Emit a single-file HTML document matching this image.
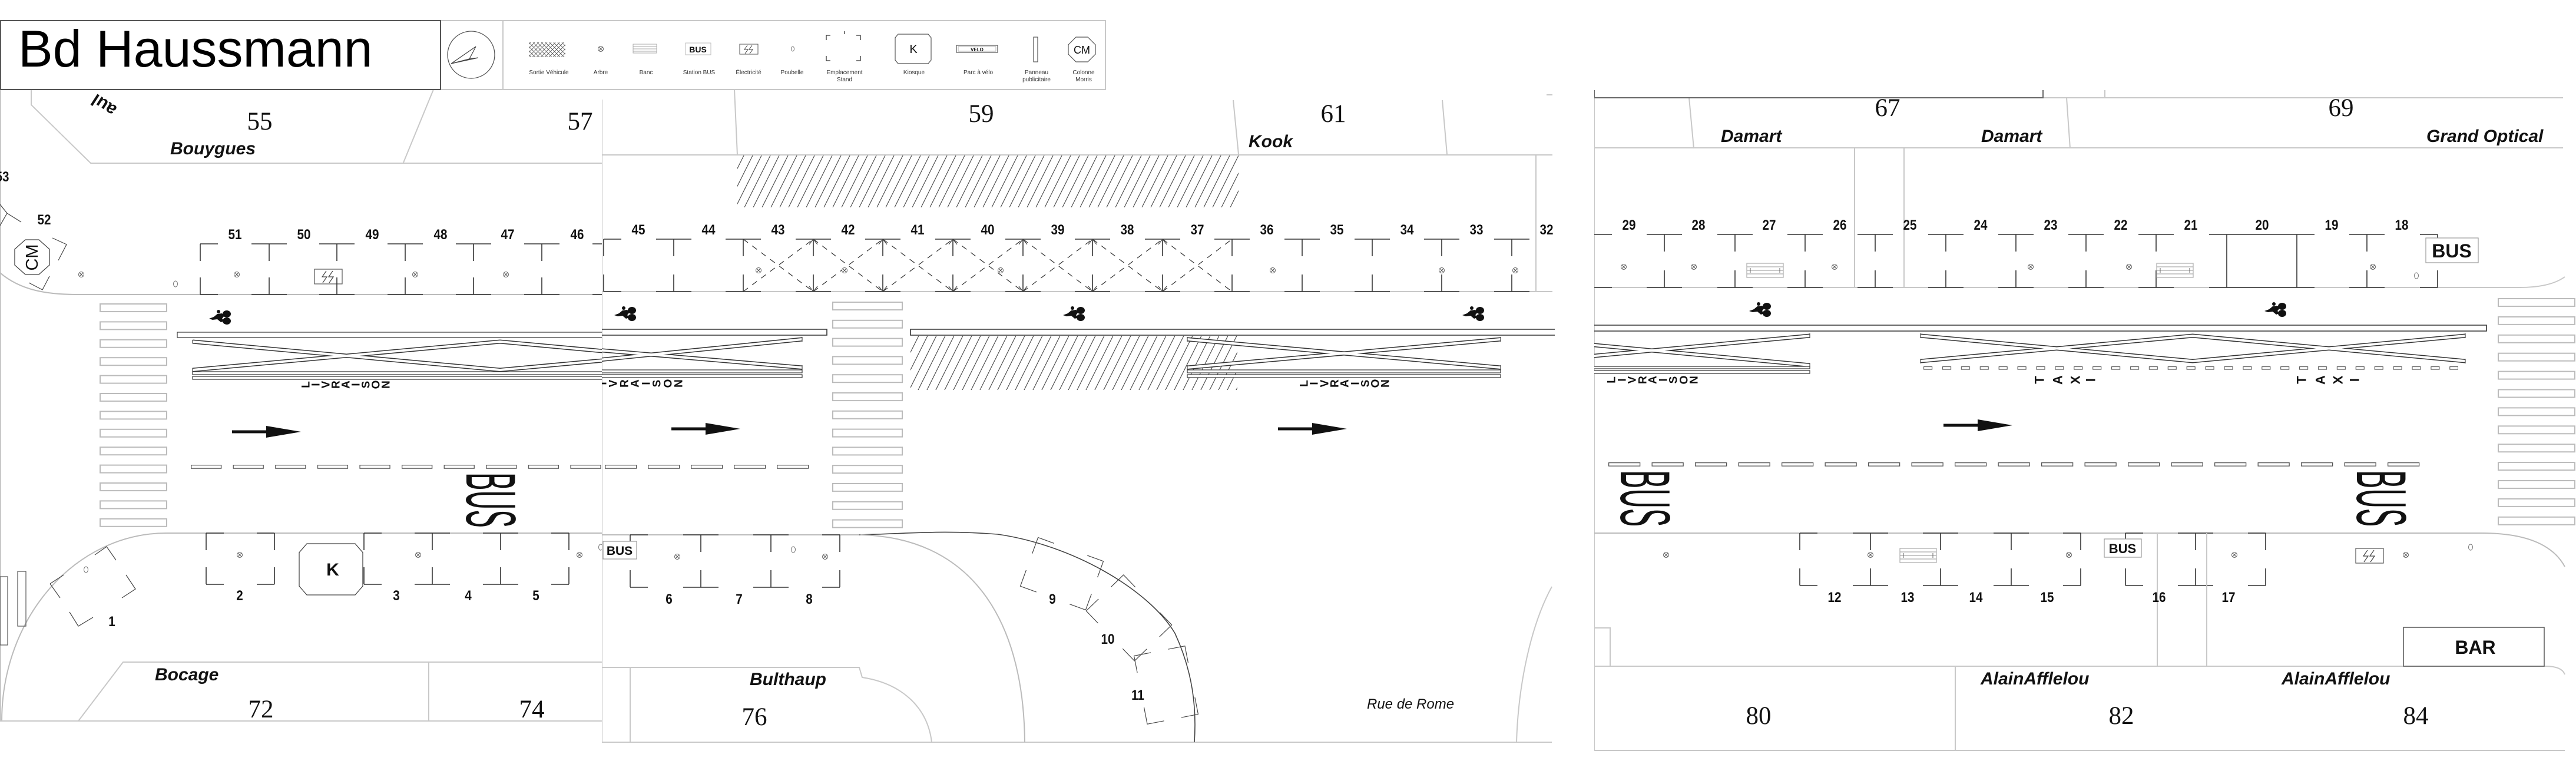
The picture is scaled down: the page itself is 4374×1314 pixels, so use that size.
<!DOCTYPE html>
<html><head><meta charset="utf-8">
<style>
html,body{margin:0;padding:0;background:#fff;}
svg{display:block;}
text{font-family:"Liberation Sans",Arial,sans-serif;}
.serif{font-family:"Liberation Serif",serif;font-size:43px;fill:#111;text-anchor:middle;}
.shop{font-weight:bold;font-style:italic;font-size:30px;fill:#111;}
.num{font-weight:bold;font-size:24px;fill:#111;text-anchor:middle;transform-box:fill-box;transform-origin:center;transform:scaleX(0.86);}
.lg{font-size:10px;fill:#333;text-anchor:middle;}
.rl{font-weight:bold;font-size:19px;fill:#111;text-anchor:middle;dominant-baseline:central;}
.tx{font-weight:bold;font-size:22px;fill:#111;text-anchor:middle;dominant-baseline:central;}
.lt{fill:none;stroke:#c8c8c8;stroke-width:2;}
.st{fill:none;stroke:#333;stroke-width:1.6;}
.thin{fill:none;stroke:#444;stroke-width:1.2;}
.dk{fill:none;stroke:#333;stroke-width:7;}
.wh{fill:none;stroke:#fff;stroke-width:4;}
.bar{fill:#fff;stroke:#333;stroke-width:1.2;}
.big{font-size:120px;fill:#111;}
</style></head><body>
<svg width="4374" height="1314" viewBox="0 0 4374 1314" xmlns="http://www.w3.org/2000/svg">
<defs>
<clipPath id="c1"><rect x="0" y="152" width="1022" height="1162"/></clipPath>
<clipPath id="c2"><rect x="1022" y="152" width="1623" height="1162"/></clipPath>
<clipPath id="c3"><rect x="2707" y="140" width="1667" height="1174"/></clipPath>
<pattern id="hatch" patternUnits="userSpaceOnUse" width="15" height="30"><path d="M-7.5 15L0 0M0 30L15 0M15 30L22.5 15" stroke="#444" stroke-width="1.1"/></pattern>
<pattern id="xh" patternUnits="userSpaceOnUse" width="7" height="7"><path d="M0 0L7 7M7 0L0 7" stroke="#555" stroke-width="0.8"/></pattern>
<pattern id="dash1" patternUnits="userSpaceOnUse" x="324" y="789" width="71.6" height="7"><rect x="0.65" y="0.65" width="51" height="5.5" fill="#fff" stroke="#555" stroke-width="1.3"/></pattern>
<pattern id="dash2" patternUnits="userSpaceOnUse" x="1027" y="789" width="73" height="7"><rect x="0.65" y="0.65" width="53" height="5.5" fill="#fff" stroke="#555" stroke-width="1.3"/></pattern>
<pattern id="dash3" patternUnits="userSpaceOnUse" x="2731" y="785" width="73.5" height="7"><rect x="0.65" y="0.65" width="53" height="5.5" fill="#fff" stroke="#555" stroke-width="1.3"/></pattern>
<pattern id="taxi" patternUnits="userSpaceOnUse" x="3266" y="622" width="31.9" height="6"><rect x="0.6" y="0.6" width="14" height="4.5" fill="#fff" stroke="#555" stroke-width="1.1"/></pattern>
<pattern id="cw1" patternUnits="userSpaceOnUse" x="169" y="515" width="116" height="30.4"><rect x="1" y="1" width="113" height="13" fill="#fff" stroke="#bbb" stroke-width="2"/></pattern>
<pattern id="cw2" patternUnits="userSpaceOnUse" x="1413" y="512" width="122" height="30.8"><rect x="1" y="1" width="118" height="13" fill="#fff" stroke="#bbb" stroke-width="2"/></pattern>
<pattern id="cw3" patternUnits="userSpaceOnUse" x="4241" y="506" width="140" height="30.9"><rect x="1" y="1" width="130" height="13" fill="#fff" stroke="#bbb" stroke-width="2"/></pattern>
<path id="tT" d="M-30 0H30M0 0V29"/>
<path id="bT" d="M-30 0H30M0 0V-29"/>
<path id="tL" d="M0 0H30M0 0V29"/>
<path id="bL" d="M0 0H30M0 0V-29"/>
<path id="tR" d="M0 0H-30M0 0V29"/>
<path id="bR" d="M0 0H-30M0 0V-29"/>
<g id="tree"><circle r="4.5" fill="#fff" stroke="#666" stroke-width="1"/><path d="M-3 -3L3 3M3 -3L-3 3" stroke="#555" stroke-width="1"/></g>
<ellipse id="bin" rx="3.5" ry="5" fill="#fff" stroke="#777" stroke-width="1"/>
<g id="bike" fill="#111"><ellipse cx="30" cy="6" rx="7" ry="6"/><ellipse cx="30" cy="18" rx="7" ry="6"/><path d="M0 14L8 11L14 6L22 5L26 9L22 14L26 18L20 20L14 15L6 16Z"/><circle cx="16" cy="2" r="3"/></g>
<g id="elec"><rect x="0" y="0" width="47" height="25" fill="#fff" stroke="#555" stroke-width="1.2"/><path d="M20 3L13 13H21L14 23M31 3L24 13H32L25 23" fill="none" stroke="#444" stroke-width="1.2"/></g>
<g id="bench"><rect x="0" y="0" width="62" height="24" fill="#fff" stroke="#aaa" stroke-width="1.2"/><path d="M0 6H62M0 12H62M0 18H62" stroke="#aaa" stroke-width="1.2"/><path d="M6 8V16M56 8V16" stroke="#666" stroke-width="1"/></g>
<g id="arrow" fill="#111"><rect x="0" y="-2.5" width="60" height="5"/><path d="M58 -10L117 0L58 10Z"/></g>
<path id="rs" d="M-59 -15V-44H-30M30 -44H59V-15M59 15V44H30M-30 44H-59V15"/>
</defs>

<rect x="0" y="0" width="4374" height="1314" fill="#fff"/>

<!-- ================= PANEL 1 ================= -->
<g clip-path="url(#c1)">
<path class="lt" d="M1 152V1224"/>
<path class="lt" d="M53 152V178L154 277H1022M736 152L685 276"/>
<text class="serif" x="441" y="220">55</text>
<text class="serif" x="985" y="220">57</text>
<text class="shop" x="289" y="262">Bouygues</text>
<text transform="translate(200,182) rotate(213)" font-weight="bold" font-size="30" fill="#111">aul</text>
<text class="num" x="4" y="308">53</text>
<path class="thin" d="M0 347L12 362L36 377M12 362L0 383"/>
<text class="num" x="75" y="381">52</text>
<polygon points="43,407 66,407 84,423 84,450 66,466 43,466 25,450 25,423" fill="#fff" stroke="#444" stroke-width="1.3"/>
<text transform="translate(55,437) rotate(-90)" font-size="29" text-anchor="middle" dominant-baseline="central" fill="#111">CM</text>
<path class="thin" d="M89 404L113 415L99 442M49 480L72 492L84 469"/>
<path class="lt" style="stroke:#bbb" d="M0 463C35 493 80 500 131 500H1022"/>
<use href="#tree" x="138" y="466"/><use href="#bin" x="298" y="482"/>
<use href="#tree" x="402" y="466"/><use href="#tree" x="705" y="466"/><use href="#tree" x="859" y="466"/>
<use href="#elec" x="534" y="457"/>
<g class="st">
<use href="#tL" x="340" y="414"/><use href="#bL" x="340" y="500"/>
<use href="#tT" x="457" y="414"/><use href="#bT" x="457" y="500"/>
<use href="#tT" x="572" y="414"/><use href="#bT" x="572" y="500"/>
<use href="#tT" x="688" y="414"/><use href="#bT" x="688" y="500"/>
<use href="#tT" x="804" y="414"/><use href="#bT" x="804" y="500"/>
<use href="#tT" x="920" y="414"/><use href="#bT" x="920" y="500"/>
<use href="#tT" x="1036" y="414"/><use href="#bT" x="1036" y="500"/>
</g>
<text class="num" x="399" y="406">51</text><text class="num" x="516" y="406">50</text><text class="num" x="632" y="406">49</text>
<text class="num" x="748" y="406">48</text><text class="num" x="862" y="406">47</text><text class="num" x="980" y="406">46</text>
<rect x="169" y="515" width="116" height="380" fill="url(#cw1)"/>
<use href="#bike" x="355" y="527"/>
<rect class="bar" x="301" y="564" width="760" height="9"/>
<polyline class="dk" points="327,580 849,628 1371,580"/><polyline class="dk" points="327,628 849,580 1371,628"/>
<polyline class="wh" points="327,580 849,628 1371,580"/><polyline class="wh" points="327,628 849,580 1371,628"/>
<path class="thin" d="M327 577V583M327 625V631"/>
<rect class="bar" x="327" y="631" width="760" height="5"/><rect class="bar" x="327" y="639" width="760" height="5"/>
<g class="rl">
<text transform="translate(520,653) rotate(-90)">L</text><text transform="translate(537,653) rotate(-90)">I</text><text transform="translate(554,653) rotate(-90)">V</text>
<text transform="translate(571,653) rotate(-90)">R</text><text transform="translate(588,653) rotate(-90)">A</text><text transform="translate(605,653) rotate(-90)">I</text>
<text transform="translate(622,653) rotate(-90)">S</text><text transform="translate(639,653) rotate(-90)">O</text><text transform="translate(656,653) rotate(-90)">N</text>
</g>
<use href="#arrow" x="394" y="733"/>
<rect x="324" y="789" width="697" height="7" fill="url(#dash1)"/>
<text class="big" transform="translate(792,802) rotate(90) scale(0.38,1)">BUS</text>
<path class="lt" style="stroke:#bbb" d="M1022 905H283C128 905 3 1048 3 1224"/>
<g class="st">
<use href="#tL" x="350" y="905"/><use href="#bL" x="350" y="992"/>
<use href="#tR" x="466" y="905"/><use href="#bR" x="466" y="992"/>
<use href="#tL" x="618" y="905"/><use href="#bL" x="618" y="992"/>
<use href="#tT" x="734" y="905"/><use href="#bT" x="734" y="992"/>
<use href="#tT" x="850" y="905"/><use href="#bT" x="850" y="992"/>
<use href="#tR" x="966" y="905"/><use href="#bR" x="966" y="992"/>
</g>
<polygon points="521,923 603,923 616,938 616,995 603,1010 521,1010 508,995 508,938" fill="#fff" stroke="#444" stroke-width="1.3"/>
<text x="565" y="977" font-size="30" font-weight="bold" text-anchor="middle" fill="#111">K</text>
<text class="num" x="407" y="1019">2</text><text class="num" x="673" y="1019">3</text><text class="num" x="795" y="1019">4</text><text class="num" x="910" y="1019">5</text>
<use href="#tree" x="407" y="942"/><use href="#tree" x="710" y="942"/><use href="#tree" x="984" y="942"/>
<use href="#bin" x="1020" y="929"/><use href="#bin" x="146" y="967"/>
<path class="thin" d="M161 942L181 928L197 951M85 991L108 976M85 991L102 1015M214 976L230 1000L207 1015M118 1039L133 1063L158 1048"/>
<text class="num" x="190" y="1063">1</text>
<rect x="0" y="979" width="13" height="116" fill="none" stroke="#555" stroke-width="1.2"/>
<rect x="30" y="970" width="14" height="93" fill="none" stroke="#555" stroke-width="1.2"/>
<path class="lt" d="M1022 1124H209L133 1224M728 1124V1224M0 1224H1022"/>
<text class="shop" x="263" y="1155">Bocage</text>
<text class="serif" x="443" y="1218">72</text>
<text class="serif" x="903" y="1218">74</text>
</g>

<!-- ================= PANEL 2 ================= -->
<g clip-path="url(#c2)">
<rect x="1022" y="152" width="1623" height="1162" fill="#fff"/>
<path class="lt" d="M1022 169V1260H2635M1247 152L1252 263M2094 170L2103 262M2449 170L2457 262M1022 263H2636M2608 262V495M2626 161H2636M1022 495H2636"/>
<text class="serif" x="1666" y="207">59</text>
<text class="serif" x="2264" y="207">61</text>
<text class="shop" x="2120" y="250">Kook</text>
<rect x="1252" y="264" width="851" height="88" fill="url(#hatch)"/>
<g class="st">
<use href="#tL" x="1025" y="406"/><use href="#bL" x="1025" y="495"/>
<use href="#tT" x="1144" y="406"/><use href="#bT" x="1144" y="495"/>
<use href="#tT" x="1262" y="406"/><use href="#bT" x="1262" y="495"/>
<use href="#tT" x="1381" y="406"/><use href="#bT" x="1381" y="495"/>
<use href="#tT" x="1499" y="406"/><use href="#bT" x="1499" y="495"/>
<use href="#tT" x="1618" y="406"/><use href="#bT" x="1618" y="495"/>
<use href="#tT" x="1737" y="406"/><use href="#bT" x="1737" y="495"/>
<use href="#tT" x="1855" y="406"/><use href="#bT" x="1855" y="495"/>
<use href="#tT" x="1974" y="406"/><use href="#bT" x="1974" y="495"/>
<use href="#tT" x="2092" y="406"/><use href="#bT" x="2092" y="495"/>
<use href="#tT" x="2211" y="406"/><use href="#bT" x="2211" y="495"/>
<use href="#tT" x="2330" y="406"/><use href="#bT" x="2330" y="495"/>
<use href="#tT" x="2448" y="406"/><use href="#bT" x="2448" y="495"/>
<use href="#tT" x="2567" y="406"/><use href="#bT" x="2567" y="495"/>
</g>
<path d="M1262 406L1381 495M1262 495L1381 406M1381 406L1499 495M1381 495L1499 406M1499 406L1618 495M1499 495L1618 406M1618 406L1737 495M1618 495L1737 406M1737 406L1855 495M1737 495L1855 406M1855 406L1974 495M1855 495L1974 406M1974 406L2092 495M1974 495L2092 406" fill="none" stroke="#333" stroke-width="1.2" stroke-dasharray="10 9"/>
<path class="thin" d="M1374 415L1381 406L1388 415M1374 486L1381 495L1388 486M1492 415L1499 406L1506 415M1492 486L1499 495L1506 486M1611 415L1618 406L1625 415M1611 486L1618 495L1625 486M1730 415L1737 406L1744 415M1730 486L1737 495L1744 486M1848 415L1855 406L1862 415M1848 486L1855 495L1862 486M1967 415L1974 406L1981 415M1967 486L1974 495L1981 486"/>
<use href="#tree" x="1288" y="459"/><use href="#tree" x="1434" y="459"/><use href="#tree" x="1699" y="459"/>
<use href="#tree" x="2161" y="459"/><use href="#tree" x="2448" y="459"/><use href="#tree" x="2573" y="459"/>
<text class="num" x="1084" y="398">45</text><text class="num" x="1203" y="398">44</text><text class="num" x="1321" y="398">43</text>
<text class="num" x="1440" y="398">42</text><text class="num" x="1558" y="398">41</text><text class="num" x="1677" y="398">40</text>
<text class="num" x="1796" y="398">39</text><text class="num" x="1914" y="398">38</text><text class="num" x="2033" y="398">37</text>
<text class="num" x="2151" y="398">36</text><text class="num" x="2270" y="398">35</text><text class="num" x="2389" y="398">34</text>
<text class="num" x="2507" y="398">33</text><text class="num" x="2626" y="398">32</text>
<use href="#bike" x="1043" y="521"/><use href="#bike" x="1805" y="521"/><use href="#bike" x="2483" y="521"/>
<path class="st" d="M1000 559H1404V569H1000M2640 559H1546V569H2640"/>
<rect x="1413" y="512" width="122" height="390" fill="url(#cw2)"/>
<polyline class="dk" points="327,580 849,628 1362,576"/><polyline class="dk" points="327,628 849,580 1362,624"/>
<polyline class="wh" points="327,580 849,628 1362,576"/><polyline class="wh" points="327,628 849,580 1362,624"/>
<path class="thin" d="M1362 572V580M1362 620V628"/>
<rect class="bar" x="1000" y="628" width="362" height="5"/><rect class="bar" x="1000" y="636" width="362" height="5"/>
<g class="rl">
<text transform="translate(1006,651) rotate(-90)">L</text><text transform="translate(1024,651) rotate(-90)">I</text><text transform="translate(1042,651) rotate(-90)">V</text>
<text transform="translate(1061,651) rotate(-90)">R</text><text transform="translate(1079,651) rotate(-90)">A</text><text transform="translate(1098,651) rotate(-90)">I</text>
<text transform="translate(1116,651) rotate(-90)">S</text><text transform="translate(1135,651) rotate(-90)">O</text><text transform="translate(1153,651) rotate(-90)">N</text>
</g>
<rect x="1546" y="570" width="555" height="92" fill="url(#hatch)"/>
<polyline class="dk" points="2016,576 2548,624"/><polyline class="dk" points="2016,624 2548,576"/>
<polyline class="wh" points="2016,576 2548,624"/><polyline class="wh" points="2016,624 2548,576"/>
<path class="thin" d="M2016 572V580M2016 620V628M2548 572V580M2548 620V628"/>
<rect class="bar" x="2016" y="628" width="532" height="5"/><rect class="bar" x="2016" y="636" width="532" height="5"/>
<g class="rl">
<text transform="translate(2215,651) rotate(-90)">L</text><text transform="translate(2232,651) rotate(-90)">I</text><text transform="translate(2250,651) rotate(-90)">V</text>
<text transform="translate(2267,651) rotate(-90)">R</text><text transform="translate(2284,651) rotate(-90)">A</text><text transform="translate(2302,651) rotate(-90)">I</text>
<text transform="translate(2319,651) rotate(-90)">S</text><text transform="translate(2336,651) rotate(-90)">O</text><text transform="translate(2353,651) rotate(-90)">N</text>
</g>
<use href="#arrow" x="1140" y="728"/><use href="#arrow" x="2170" y="728"/>
<rect x="1027" y="789" width="347" height="7" fill="url(#dash2)"/>
<path class="lt" style="stroke:#bbb" d="M1022 908H1459"/>
<path d="M1459 908C1560 905 1600 900 1694 907C1820 925 1950 1000 1995 1075C2025 1140 2032 1200 2028 1260" fill="none" stroke="#444" stroke-width="1.6"/>
<path class="lt" style="stroke:#bbb" d="M1461 908C1640 912 1738 1040 1740 1260"/>
<g class="st">
<use href="#tL" x="1070" y="908"/><use href="#bL" x="1070" y="997"/>
<use href="#tT" x="1190" y="908"/><use href="#bT" x="1190" y="997"/>
<use href="#tT" x="1309" y="908"/><use href="#bT" x="1309" y="997"/>
<use href="#tR" x="1426" y="908"/><use href="#bR" x="1426" y="997"/>
</g>
<text class="num" x="1136" y="1025">6</text><text class="num" x="1255" y="1025">7</text><text class="num" x="1374" y="1025">8</text>
<rect x="1024" y="919" width="57" height="30" fill="#fff" stroke="#999" stroke-width="1.2"/>
<text x="1052" y="942" font-size="21" font-weight="bold" text-anchor="middle" fill="#111">BUS</text>
<use href="#tree" x="1150" y="945"/><use href="#bin" x="1347" y="933"/><use href="#tree" x="1401" y="945"/>
<g class="thin">
<use href="#rs" transform="translate(1803,974) rotate(20)"/>
<use href="#rs" transform="translate(1917,1049) rotate(46)"/>
<use href="#rs" transform="translate(1980,1163) rotate(79)"/>
</g>
<text class="num" x="1787" y="1025">9</text><text class="num" x="1881" y="1093">10</text><text class="num" x="1932" y="1188">11</text>
<path class="lt" d="M1022 1133H1459L1464 1150C1530 1160 1575 1200 1582 1260M1070 1133V1260M2635 996C2600 1060 2578 1160 2575 1260"/>
<text class="shop" x="1273" y="1163">Bulthaup</text>
<text class="serif" x="1281" y="1231">76</text>
<text x="2321" y="1203" font-size="24" font-style="italic" fill="#111">Rue de Rome</text>
</g>

<!-- ================= PANEL 3 ================= -->
<g clip-path="url(#c3)">
<rect x="2707" y="140" width="1667" height="1174" fill="#fff"/>
<path class="lt" d="M2707 153V1274M2707 166H4352M3574 153V166M2707 251H4352M2868 166L2876 252M3509 166L3515 252M3149 252V488M3233 252V488M2707 488H4279Q4330 488 4355 470"/>
<path d="M2707 153V166H3469V153" fill="none" stroke="#666" stroke-width="2"/>
<text class="serif" x="3205" y="197">67</text>
<text class="serif" x="3975" y="197">69</text>
<text class="shop" x="2922" y="241">Damart</text>
<text class="shop" x="3364" y="241">Damart</text>
<text class="shop" x="4120" y="241">Grand Optical</text>
<g class="st">
<path d="M2707 398H2737M2707 488H2737"/>
<use href="#tT" x="2826" y="398"/><use href="#bT" x="2826" y="488"/>
<use href="#tT" x="2946" y="398"/><use href="#bT" x="2946" y="488"/>
<use href="#tT" x="3065" y="398"/><use href="#bT" x="3065" y="488"/>
<use href="#tT" x="3184" y="398"/><use href="#bT" x="3184" y="488"/>
<use href="#tT" x="3304" y="398"/><use href="#bT" x="3304" y="488"/>
<use href="#tT" x="3423" y="398"/><use href="#bT" x="3423" y="488"/>
<use href="#tT" x="3542" y="398"/><use href="#bT" x="3542" y="488"/>
<use href="#tT" x="3661" y="398"/><use href="#bT" x="3661" y="488"/>
<path d="M3751 398H3930M3781 398V488M3900 398V488M3751 488H3930"/>
<use href="#tT" x="4019" y="398"/><use href="#bT" x="4019" y="488"/>
<use href="#tR" x="4139" y="398"/><use href="#bR" x="4139" y="488"/>
</g>
<text class="num" x="2766" y="390">29</text><text class="num" x="2884" y="390">28</text><text class="num" x="3004" y="390">27</text>
<text class="num" x="3124" y="390">26</text><text class="num" x="3243" y="390">25</text><text class="num" x="3363" y="390">24</text>
<text class="num" x="3482" y="390">23</text><text class="num" x="3601" y="390">22</text><text class="num" x="3720" y="390">21</text>
<text class="num" x="3841" y="390">20</text><text class="num" x="3959" y="390">19</text><text class="num" x="4078" y="390">18</text>
<use href="#tree" x="2757" y="453"/><use href="#tree" x="2876" y="453"/><use href="#tree" x="3115" y="453"/>
<use href="#tree" x="3448" y="453"/><use href="#tree" x="3615" y="453"/><use href="#tree" x="4029" y="453"/>
<use href="#bin" x="4103" y="468"/>
<use href="#bench" x="2966" y="447"/><use href="#bench" x="3662" y="447"/>
<rect x="4119" y="404" width="89" height="42" fill="#fff" stroke="#999" stroke-width="1.2"/>
<text x="4163" y="437" font-size="32" font-weight="bold" text-anchor="middle" fill="#111">BUS</text>
<use href="#bike" x="2970" y="514"/><use href="#bike" x="3845" y="514"/>
<path class="st" d="M2700 552H4222V562H2700"/>
<polyline class="dk" points="2537,570 3073,620"/><polyline class="dk" points="2537,620 3073,570"/>
<polyline class="wh" points="2537,570 3073,620"/><polyline class="wh" points="2537,620 3073,570"/>
<path class="thin" d="M3073 566V574M3073 616V624"/>
<rect class="bar" x="2700" y="622" width="373" height="4"/><rect class="bar" x="2700" y="629" width="373" height="5"/>
<g class="rl">
<text transform="translate(2737,645) rotate(-90)">L</text><text transform="translate(2755,645) rotate(-90)">I</text><text transform="translate(2772,645) rotate(-90)">V</text>
<text transform="translate(2790,645) rotate(-90)">R</text><text transform="translate(2807,645) rotate(-90)">A</text><text transform="translate(2825,645) rotate(-90)">I</text>
<text transform="translate(2842,645) rotate(-90)">S</text><text transform="translate(2860,645) rotate(-90)">O</text><text transform="translate(2877,645) rotate(-90)">N</text>
</g>
<polyline class="dk" points="3261,570 3723,613 4186,570"/><polyline class="dk" points="3261,613 3723,570 4186,613"/>
<polyline class="wh" points="3261,570 3723,613 4186,570"/><polyline class="wh" points="3261,613 3723,570 4186,613"/>
<path class="thin" d="M3261 566V574M3261 609V617M4186 566V574M4186 609V617"/>
<rect x="3266" y="622" width="908" height="6" fill="url(#taxi)"/>
<g class="tx">
<text transform="translate(3463,645) rotate(-90)">T</text><text transform="translate(3494,645) rotate(-90)">A</text>
<text transform="translate(3524,645) rotate(-90)">X</text><text transform="translate(3550,645) rotate(-90)">I</text>
<text transform="translate(3908,645) rotate(-90)">T</text><text transform="translate(3940,645) rotate(-90)">A</text>
<text transform="translate(3970,645) rotate(-90)">X</text><text transform="translate(3998,645) rotate(-90)">I</text>
</g>
<use href="#arrow" x="3300" y="722"/>
<rect x="2731" y="785" width="1378" height="7" fill="url(#dash3)"/>
<text class="big" transform="translate(2752,798) rotate(90) scale(0.39,1)">BUS</text>
<text class="big" transform="translate(4002,798) rotate(90) scale(0.39,1)">BUS</text>
<rect x="4241" y="506" width="140" height="392" fill="url(#cw3)"/>
<path class="lt" style="stroke:#bbb" d="M2707 905H4214C4290 905 4335 925 4355 962"/>
<g class="st">
<use href="#tL" x="3056" y="905"/><use href="#bL" x="3056" y="994"/>
<use href="#tT" x="3176" y="905"/><use href="#bT" x="3176" y="994"/>
<use href="#tT" x="3295" y="905"/><use href="#bT" x="3295" y="994"/>
<use href="#tT" x="3415" y="905"/><use href="#bT" x="3415" y="994"/>
<use href="#tR" x="3533" y="905"/><use href="#bR" x="3533" y="994"/>
<use href="#tL" x="3609" y="905"/><use href="#bL" x="3609" y="994"/>
<use href="#tT" x="3728" y="905"/><use href="#bT" x="3728" y="994"/>
<use href="#tR" x="3847" y="905"/><use href="#bR" x="3847" y="994"/>
</g>
<path class="lt" d="M3663 905V1131M3747 905V1131"/>
<text class="num" x="3115" y="1022">12</text><text class="num" x="3239" y="1022">13</text><text class="num" x="3355" y="1022">14</text>
<text class="num" x="3476" y="1022">15</text><text class="num" x="3666" y="1022">16</text><text class="num" x="3784" y="1022">17</text>
<rect x="3573" y="915" width="63" height="31" fill="#fff" stroke="#999" stroke-width="1.2"/>
<text x="3604" y="939" font-size="22" font-weight="bold" text-anchor="middle" fill="#111">BUS</text>
<use href="#bench" x="3226" y="931"/>
<use href="#tree" x="2829" y="942"/><use href="#tree" x="3176" y="942"/><use href="#tree" x="3513" y="942"/>
<use href="#tree" x="3794" y="942"/><use href="#tree" x="4085" y="942"/>
<use href="#elec" x="4000" y="931"/><use href="#bin" x="4195" y="929"/>
<path class="lt" d="M2707 1131H4322Q4350 1131 4355 1145M2707 1066H2734V1131M2707 1274H4355M3320 1131V1274"/>
<rect x="4081" y="1065" width="239" height="66" fill="#fff" stroke="#555" stroke-width="1.5"/>
<text x="4203" y="1110" font-size="32" font-weight="bold" text-anchor="middle" fill="#111">BAR</text>
<text class="serif" x="2986" y="1229">80</text>
<text class="serif" x="3602" y="1229">82</text>
<text class="serif" x="4102" y="1229">84</text>
<text class="shop" x="3363" y="1162">AlainAfflelou</text>
<text class="shop" x="3874" y="1162">AlainAfflelou</text>
</g>

<!-- ================= HEADER / LEGEND ================= -->
<rect x="748" y="35" width="1129" height="117" fill="#fff" stroke="#c8c8c8" stroke-width="2"/>
<path class="lt" d="M854 35V152"/>
<rect x="1" y="35" width="747" height="117" fill="#fff" stroke="#555" stroke-width="2"/>
<text x="31" y="113" font-size="88" fill="#000">Bd Haussmann</text>
<circle cx="800" cy="93" r="40" fill="#fff" stroke="#555" stroke-width="1.3"/>
<path d="M766 108L808 79L797 100ZM766 108L812 98L797 100" fill="none" stroke="#444" stroke-width="1.2"/>

<rect x="898" y="72" width="62" height="25" fill="url(#xh)"/>
<use href="#tree" x="1020" y="83"/>
<g><rect x="1075" y="75" width="40" height="15" fill="#fff" stroke="#aaa" stroke-width="1"/><path d="M1075 79H1115M1075 83H1115M1075 87H1115" stroke="#aaa" stroke-width="1"/></g>
<rect x="1164" y="73" width="43" height="20" fill="#fff" stroke="#bbb" stroke-width="1"/>
<text x="1185" y="89" font-size="14" font-weight="bold" text-anchor="middle" fill="#111">BUS</text>
<rect x="1256" y="75" width="31" height="17" fill="#fff" stroke="#555" stroke-width="1"/>
<path d="M1269 77L1264 84H1270L1265 91M1277 77L1272 84H1278L1273 91" fill="none" stroke="#444" stroke-width="1"/>
<ellipse cx="1346" cy="83" rx="2.5" ry="4" fill="#fff" stroke="#777" stroke-width="1"/>
<path class="st" style="stroke-width:1.3" d="M1403 68V60H1410M1454 60H1461V68M1403 95V103H1410M1454 103H1461V95M1434 53V58"/>
<polygon points="1525,58 1576,58 1581,64 1581,102 1576,108 1525,108 1520,102 1520,64" fill="#fff" stroke="#555" stroke-width="1.2"/>
<text x="1551" y="90" font-size="20" text-anchor="middle" fill="#111">K</text>
<rect x="1624" y="77" width="70" height="12" fill="#fff" stroke="#555" stroke-width="1.2"/>
<rect x="1627" y="79" width="64" height="8" fill="none" stroke="#999" stroke-width="0.8"/>
<text x="1659" y="87" font-size="8" font-weight="bold" text-anchor="middle" fill="#111">VELO</text>
<rect x="1755" y="63" width="7" height="42" fill="#fff" stroke="#555" stroke-width="1.2"/>
<polygon points="1827,63 1847,63 1860,76 1860,92 1847,105 1827,105 1814,92 1814,76" fill="#fff" stroke="#555" stroke-width="1.2"/>
<text x="1837" y="91" font-size="18" text-anchor="middle" fill="#111">CM</text>

<text class="lg" x="932" y="126">Sortie Véhicule</text>
<text class="lg" x="1020" y="126">Arbre</text>
<text class="lg" x="1097" y="126">Banc</text>
<text class="lg" x="1187" y="126">Station BUS</text>
<text class="lg" x="1271" y="126">Électricité</text>
<text class="lg" x="1345" y="126">Poubelle</text>
<text class="lg" x="1434" y="126">Emplacement</text>
<text class="lg" x="1434" y="138">Stand</text>
<text class="lg" x="1552" y="126">Kiosque</text>
<text class="lg" x="1661" y="126">Parc à vélo</text>
<text class="lg" x="1760" y="126">Panneau</text>
<text class="lg" x="1760" y="138">publicitaire</text>
<text class="lg" x="1840" y="126">Colonne</text>
<text class="lg" x="1840" y="138">Morris</text>
</svg>
</body></html>
